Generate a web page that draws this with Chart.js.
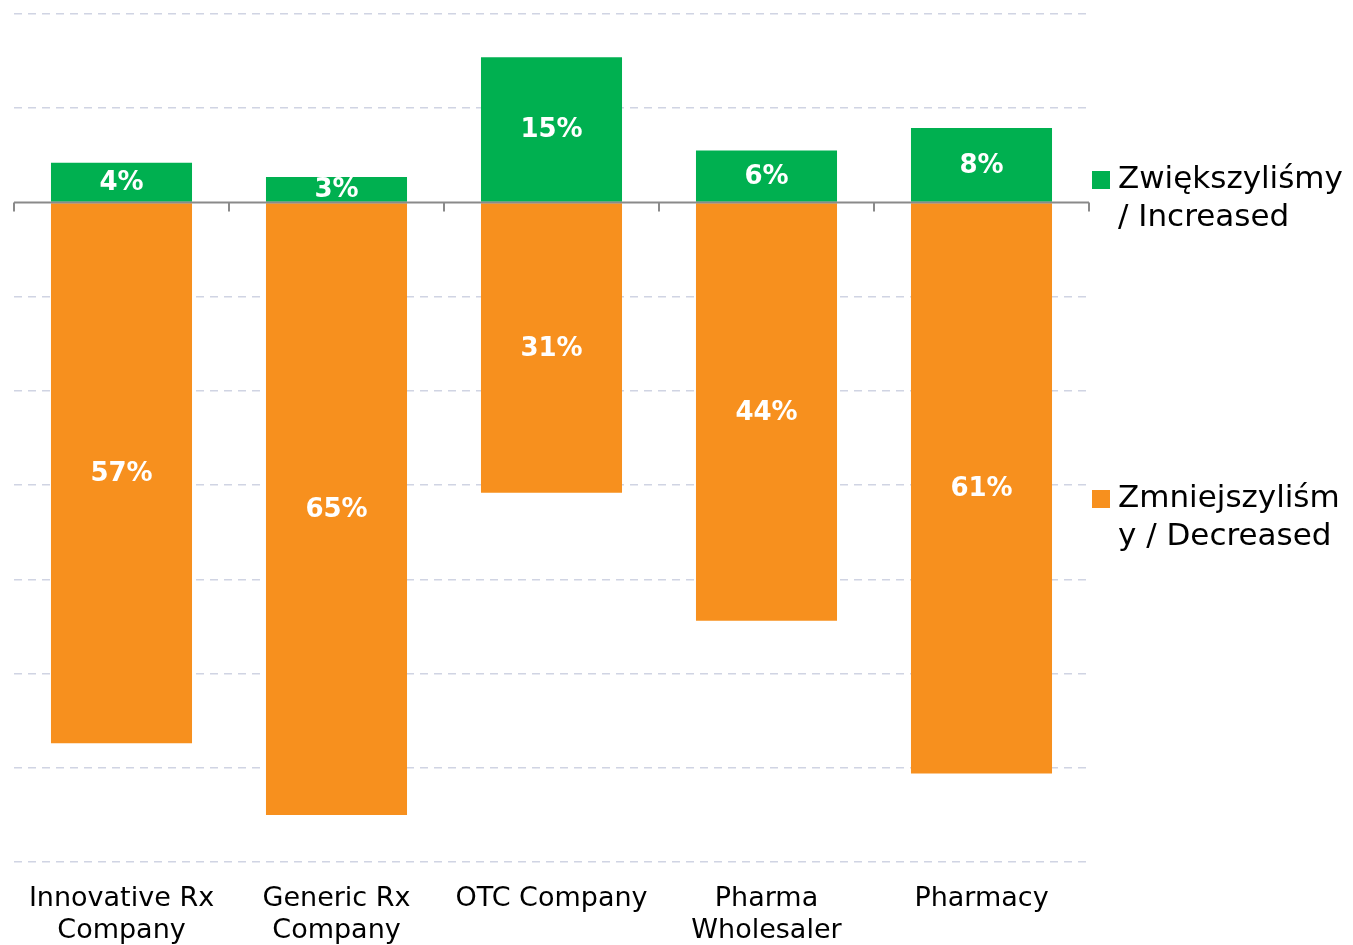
<!DOCTYPE html>
<html>
<head>
<meta charset="utf-8">
<script src="https://cdn.jsdelivr.net/npm/chart.js@4"></script>
<style>
  body { margin: 0; background: #fff; }
  canvas { display: block; }
</style>
</head>
<body>
<canvas id="chart" width="1353" height="945"></canvas>
<script>
// 数据
const categories = [['Innovative Rx', 'Company'], ['Generic Rx', 'Company'], 'OTC Company', ['Pharma', 'Wholesaler'], 'Pharmacy'];
const increased = [4.2, 2.7, 15.4, 5.5, 7.9];
const decreased = [-57.4, -65.0, -30.8, -44.4, -60.6];
const seriesNames = ['Zwiększyliśmy / Increased', 'Zmniejszyliśmy / Decreased'];
const legendLines = [['Zwiększyliśmy', '/ Increased'], ['Zmniejszyliśm', 'y / Decreased']];
const yTicks = { min: -70, max: 20, step: 10 };

const GREEN = '#00b050';
const ORANGE = '#f7901e';

// 零线和刻度
const zeroLinePlugin = {
    id: 'zeroLine',
    afterDatasetsDraw(chart) {
        const ctx = chart.ctx;
        const area = chart.chartArea;
        const y0 = chart.scales.y.getPixelForValue(0);
        const step = (area.right - area.left) / categories.length;
        ctx.save();
        ctx.strokeStyle = '#8a8a8a';
        ctx.lineWidth = 2;
        ctx.beginPath();
        ctx.moveTo(area.left, y0);
        ctx.lineTo(area.right, y0);
        for (let i = 0; i <= categories.length; i++) {
            const x = Math.round(area.left + i * step);
            ctx.moveTo(x, y0);
            ctx.lineTo(x, y0 + 9);
        }
        ctx.stroke();
        ctx.restore();
    }
};

// 柱内数值标签
const barLabelPlugin = {
    id: 'barLabels',
    afterDraw(chart) {
        const ctx = chart.ctx;
        ctx.save();
        ctx.fillStyle = '#ffffff';
        ctx.font = 'bold 26px "DejaVu Sans"';
        ctx.textAlign = 'center';
        ctx.textBaseline = 'middle';
        chart.data.datasets.forEach((ds, di) => {
            chart.getDatasetMeta(di).data.forEach((bar, i) => {
                const c = bar.getCenterPoint();
                ctx.fillText(Math.round(Math.abs(ds.data[i])) + '%', c.x, c.y + 1);
            });
        });
        ctx.restore();
    }
};

// 右侧图例
const sideLegendPlugin = {
    id: 'sideLegend',
    afterDraw(chart) {
        const ctx = chart.ctx;
        const left = chart.chartArea.right + 3;
        const tops = [180, 499];
        ctx.save();
        ctx.font = '31px "DejaVu Sans"';
        ctx.textBaseline = 'middle';
        chart.data.datasets.forEach((ds, di) => {
            const y = tops[di];
            ctx.fillStyle = ds.backgroundColor;
            ctx.fillRect(left, y - 9, 18, 18);
            ctx.fillStyle = '#000000';
            legendLines[di].forEach((line, li) => {
                ctx.fillText(line, left + 26, y + li * 38);
            });
        });
        ctx.restore();
    }
};

new Chart(document.getElementById('chart'), {
    type: 'bar',
    data: {
        labels: categories,
        datasets: [
            { label: seriesNames[0], data: increased, backgroundColor: GREEN },
            { label: seriesNames[1], data: decreased, backgroundColor: ORANGE }
        ]
    },
    options: {
        responsive: false,
        animation: false,
        devicePixelRatio: 1,
        layout: { padding: { left: 14, right: 264, top: 14, bottom: 0 } },
        datasets: {
            bar: { categoryPercentage: 1, barPercentage: 0.656 }
        },
        plugins: {
            legend: { display: false },
            tooltip: { enabled: false }
        },
        scales: {
            x: {
                stacked: true,
                grid: { display: false, drawTicks: false },
                border: { display: false },
                ticks: {
                    color: '#000000',
                    padding: 21,
                    font: { family: '"DejaVu Sans"', size: 27, lineHeight: 1.19 },
                    maxRotation: 0,
                    autoSkip: false
                },
                afterFit(axis) { axis.height = 83; }
            },
            y: {
                stacked: true,
                min: yTicks.min,
                max: yTicks.max,
                ticks: { display: false, stepSize: yTicks.step },
                border: { display: false, dash: [8, 6] },
                grid: {
                    drawTicks: false,
                    lineWidth: 1.5,
                    color: ctx => ctx.tick && ctx.tick.value === 0 ? 'rgba(0,0,0,0)' : '#d0d4e3'
                },
                afterFit(axis) { axis.width = 0; }
            }
        }
    },
    plugins: [zeroLinePlugin, barLabelPlugin, sideLegendPlugin]
});
</script>
</body>
</html>
